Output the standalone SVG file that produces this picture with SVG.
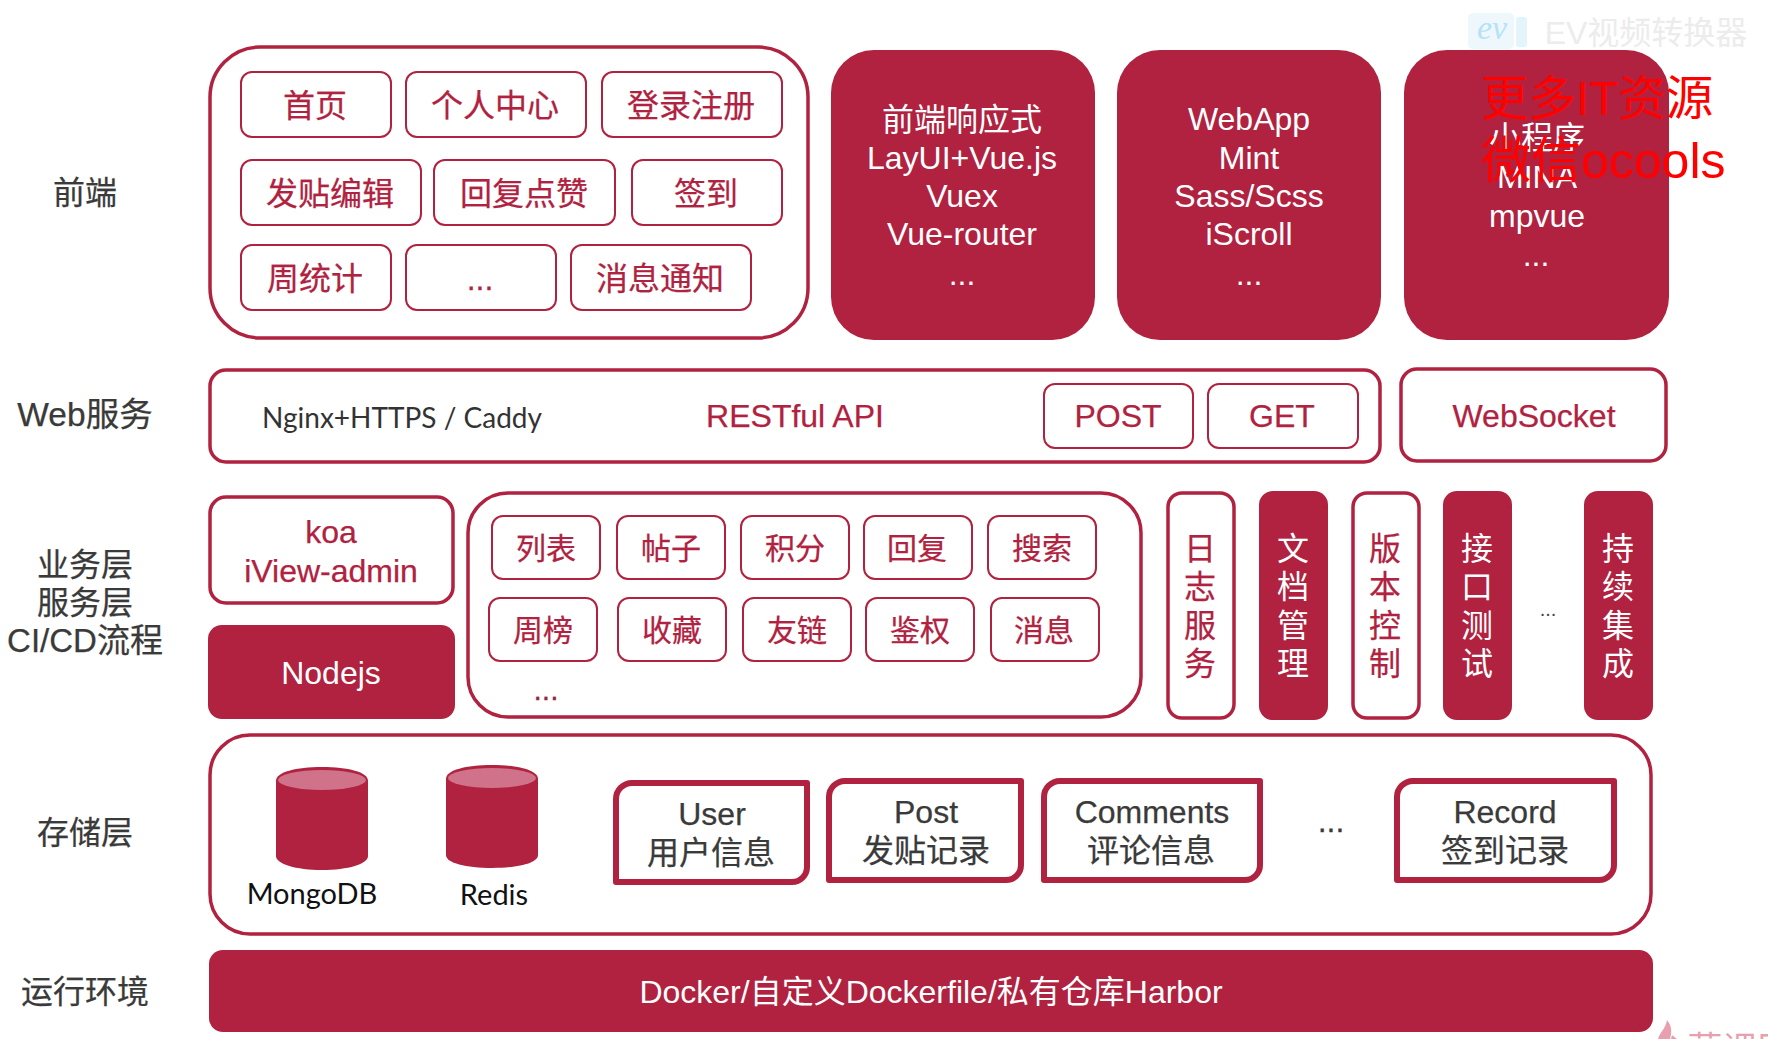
<svg xmlns="http://www.w3.org/2000/svg" width="1768" height="1039" viewBox="0 0 1768 1039">
<style>
text{font-family:"Liberation Sans","Noto Sans CJK SC",sans-serif;text-anchor:middle}
.o{fill:#fff;stroke:#b0223f;stroke-width:2}
.m{fill:#fff;stroke:#b0223f;stroke-width:3.5}
.h{fill:#fff;stroke:#b0223f;stroke-width:6;stroke-linejoin:round}
.s{fill:#b0223f}
.c{fill:#b0223f;font-size:32px;stroke:#b0223f;stroke-width:.25}
.c2{fill:#b0223f;font-size:30px;stroke:#b0223f;stroke-width:.25}
.w{fill:#fff;font-size:32px}
.d{fill:#3a3a3a;font-size:32px;stroke:#3a3a3a;stroke-width:.25}
.k{fill:#111;font-size:29px;font-family:Lato,"Liberation Sans",sans-serif}
.l{fill:#d0728a}
.r{fill:#f00;text-anchor:start}
</style>

<g id="watermark-ev">
<rect x="1468" y="13" width="46" height="36" rx="5" fill="#eef8fc"/>
<rect x="1516" y="17" width="11" height="30" rx="3" fill="#e4f4fb"/>
<text x="1492" y="39" font-size="34" font-style="italic" fill="#b5e2f6" style="font-family:'Liberation Serif',serif">ev</text>
<text x="1646" y="44" font-size="32" fill="#ececec">EV视频转换器</text>
</g>

<g id="label-frontend"><text class="d" x="85" y="204">前端</text></g>
<g id="label-web"><text class="d" x="85" y="426" style="font-size:33.5px">Web服务</text></g>
<g id="label-biz">
<text class="d" x="85" y="576">业务层</text>
<text class="d" x="85" y="614">服务层</text>
<text class="d" x="85" y="652" style="font-size:33px">CI/CD流程</text>
</g>
<g id="label-storage"><text class="d" x="85" y="844">存储层</text></g>
<g id="label-runtime"><text class="d" x="85" y="1003">运行环境</text></g>

<g id="frontend-pages">
<rect class="m" x="210" y="47" width="598" height="291" rx="50"/>
<g id="fe-home"><rect class="o" x="241" y="72" width="150" height="65" rx="11"/><text class="c" x="315" y="117">首页</text></g>
<g id="fe-profile"><rect class="o" x="406" y="72" width="180" height="65" rx="11"/><text class="c" x="495" y="117">个人中心</text></g>
<g id="fe-login"><rect class="o" x="602" y="72" width="180" height="65" rx="11"/><text class="c" x="691" y="117">登录注册</text></g>
<g id="fe-edit"><rect class="o" x="241" y="160" width="180" height="65" rx="11"/><text class="c" x="330" y="205">发贴编辑</text></g>
<g id="fe-reply"><rect class="o" x="434" y="160" width="181" height="65" rx="11"/><text class="c" x="524" y="205">回复点赞</text></g>
<g id="fe-sign"><rect class="o" x="632" y="160" width="150" height="65" rx="11"/><text class="c" x="706" y="205">签到</text></g>
<g id="fe-weekly"><rect class="o" x="241" y="245" width="150" height="65" rx="11"/><text class="c" x="315" y="290">周统计</text></g>
<g id="fe-more"><rect class="o" x="406" y="245" width="150" height="65" rx="11"/><text class="c" x="480" y="290">...</text></g>
<g id="fe-notify"><rect class="o" x="571" y="245" width="180" height="65" rx="11"/><text class="c" x="660" y="290">消息通知</text></g>
</g>

<g id="card-responsive">
<rect class="s" x="831" y="50" width="264" height="290" rx="43"/>
<text class="w" x="962" y="131">前端响应式</text>
<text class="w" x="962" y="169">LayUI+Vue.js</text>
<text class="w" x="962" y="207">Vuex</text>
<text class="w" x="962" y="245">Vue-router</text>
<text class="w" x="962" y="285">...</text>
</g>
<g id="card-webapp">
<rect class="s" x="1117" y="50" width="264" height="290" rx="43"/>
<text class="w" x="1249" y="130">WebApp</text>
<text class="w" x="1249" y="169">Mint</text>
<text class="w" x="1249" y="207">Sass/Scss</text>
<text class="w" x="1249" y="245">iScroll</text>
<text class="w" x="1249" y="285">...</text>
</g>
<g id="card-miniapp">
<rect class="s" x="1404" y="50" width="265" height="290" rx="43"/>
<text class="w" x="1537" y="149">小程序</text>
<text class="w" x="1537" y="188">MINA</text>
<text class="w" x="1537" y="227">mpvue</text>
<text class="w" x="1536" y="266">...</text>
</g>

<g id="web-service">
<rect class="m" x="210" y="370" width="1170" height="92" rx="16"/>
<text x="402" y="428" font-size="28" fill="#333" style="font-family:Lato,'Liberation Sans',sans-serif">Nginx+HTTPS / Caddy</text>
<text class="c" x="795" y="427">RESTful API</text>
<g id="post"><rect class="o" x="1044" y="384" width="149" height="64" rx="11"/><text class="c" x="1118" y="427">POST</text></g>
<g id="get"><rect class="o" x="1208" y="384" width="150" height="64" rx="11"/><text class="c" x="1282" y="427">GET</text></g>
</g>
<g id="websocket">
<rect class="m" x="1401" y="369" width="265" height="92" rx="16"/>
<text class="c" x="1534" y="427">WebSocket</text>
</g>

<g id="koa">
<rect class="m" x="210" y="497" width="243" height="106" rx="16"/>
<text class="c" x="331" y="543">koa</text>
<text class="c" x="331" y="582">iView-admin</text>
</g>
<g id="nodejs">
<rect class="s" x="208" y="625" width="247" height="94" rx="14"/>
<text class="w" x="331" y="684">Nodejs</text>
</g>

<g id="services">
<rect class="m" x="468" y="493" width="673" height="224" rx="40"/>
<g id="sv-list"><rect class="o" x="492" y="516" width="108" height="63" rx="11"/><text class="c2" x="546" y="559">列表</text></g>
<g id="sv-post"><rect class="o" x="617" y="516" width="108" height="63" rx="11"/><text class="c2" x="671" y="559">帖子</text></g>
<g id="sv-points"><rect class="o" x="741" y="516" width="108" height="63" rx="11"/><text class="c2" x="795" y="559">积分</text></g>
<g id="sv-reply"><rect class="o" x="864" y="516" width="108" height="63" rx="11"/><text class="c2" x="917" y="559">回复</text></g>
<g id="sv-search"><rect class="o" x="988" y="516" width="108" height="63" rx="11"/><text class="c2" x="1042" y="559">搜索</text></g>
<g id="sv-week"><rect class="o" x="489" y="598" width="108" height="63" rx="11"/><text class="c2" x="543" y="641">周榜</text></g>
<g id="sv-fav"><rect class="o" x="618" y="598" width="108" height="63" rx="11"/><text class="c2" x="672" y="641">收藏</text></g>
<g id="sv-links"><rect class="o" x="743" y="598" width="108" height="63" rx="11"/><text class="c2" x="797" y="641">友链</text></g>
<g id="sv-auth"><rect class="o" x="866" y="598" width="108" height="63" rx="11"/><text class="c2" x="920" y="641">鉴权</text></g>
<g id="sv-msg"><rect class="o" x="991" y="598" width="108" height="63" rx="11"/><text class="c2" x="1044" y="641">消息</text></g>
<text class="c2" x="546" y="700" style="fill:#8a2a40">...</text>
</g>

<g id="v-log">
<rect class="m" x="1168" y="493" width="66" height="225" rx="14"/>
<text class="c" x="1200" y="560">日</text><text class="c" x="1200" y="598">志</text><text class="c" x="1200" y="637">服</text><text class="c" x="1200" y="675">务</text>
</g>
<g id="v-docs">
<rect class="s" x="1259" y="491" width="69" height="229" rx="14"/>
<text class="w" x="1293" y="560">文</text><text class="w" x="1293" y="598">档</text><text class="w" x="1293" y="637">管</text><text class="w" x="1293" y="675">理</text>
</g>
<g id="v-vcs">
<rect class="m" x="1353" y="493" width="66" height="225" rx="14"/>
<text class="c" x="1385" y="560">版</text><text class="c" x="1385" y="598">本</text><text class="c" x="1385" y="637">控</text><text class="c" x="1385" y="675">制</text>
</g>
<g id="v-api">
<rect class="s" x="1443" y="491" width="69" height="229" rx="14"/>
<text class="w" x="1477" y="560">接</text><text class="w" x="1477" y="598">口</text><text class="w" x="1477" y="637">测</text><text class="w" x="1477" y="675">试</text>
</g>
<text x="1548" y="616" font-size="20" fill="#444">...</text>
<g id="v-ci">
<rect class="s" x="1584" y="491" width="69" height="229" rx="14"/>
<text class="w" x="1618" y="560">持</text><text class="w" x="1618" y="598">续</text><text class="w" x="1618" y="637">集</text><text class="w" x="1618" y="675">成</text>
</g>

<g id="storage">
<rect class="m" x="210" y="735" width="1441" height="199" rx="40"/>
<g id="mongodb">
<path class="s" d="M276 781C276 772 296 767 322 767S368 772 368 781V856C368 864 348 870 322 870S276 864 276 856Z"/>
<ellipse class="l" cx="322" cy="780" rx="44" ry="10"/>
<text class="k" x="312" y="904">MongoDB</text>
</g>
<g id="redis">
<path class="s" d="M446 779C446 770 466 765 492 765S538 770 538 779V855C538 863 518 868 492 868S446 863 446 855Z"/>
<ellipse class="l" cx="492" cy="778" rx="44" ry="10"/>
<text class="k" x="494" y="905">Redis</text>
</g>
<g id="t-user"><path class="h" d="M632 783H807V867A15 15 0 0 1 792 882H616V799A16 16 0 0 1 632 783Z"/><text class="d" x="712" y="825">User</text><text class="d" x="711" y="864">用户信息</text></g>
<g id="t-post"><path class="h" d="M845 781H1021V865A15 15 0 0 1 1006 880H829V797A16 16 0 0 1 845 781Z"/><text class="d" x="926" y="823">Post</text><text class="d" x="926" y="862">发贴记录</text></g>
<g id="t-comments"><path class="h" d="M1060 781H1260V865A15 15 0 0 1 1245 880H1044V797A16 16 0 0 1 1060 781Z"/><text class="d" x="1152" y="823">Comments</text><text class="d" x="1151" y="862">评论信息</text></g>
<text class="d" x="1331" y="832">...</text>
<g id="t-record"><path class="h" d="M1413 781H1614V865A15 15 0 0 1 1599 880H1397V797A16 16 0 0 1 1413 781Z"/><text class="d" x="1505" y="823">Record</text><text class="d" x="1505" y="862">签到记录</text></g>
</g>

<g id="runtime">
<rect class="s" x="209" y="950" width="1444" height="82" rx="14"/>
<text class="w" x="931" y="1003">Docker/自定义Dockerfile/私有仓库Harbor</text>
</g>

<g id="watermark-imooc">
<path d="M1667 1020C1672 1026 1672 1032 1670 1039H1658C1660 1032 1666 1028 1667 1020ZM1672 1035L1677 1039H1671Z" fill="#e8a0ae"/>
<text x="1740" y="1062" font-size="35" fill="#e8a0ae">慕课网</text>
</g>

<g id="watermark-red">
<text class="r" x="1481" y="115" font-size="47.5">更多IT资源</text>
<text class="r" x="1481" y="178" font-size="50">微信ocools</text>
</g>
</svg>
